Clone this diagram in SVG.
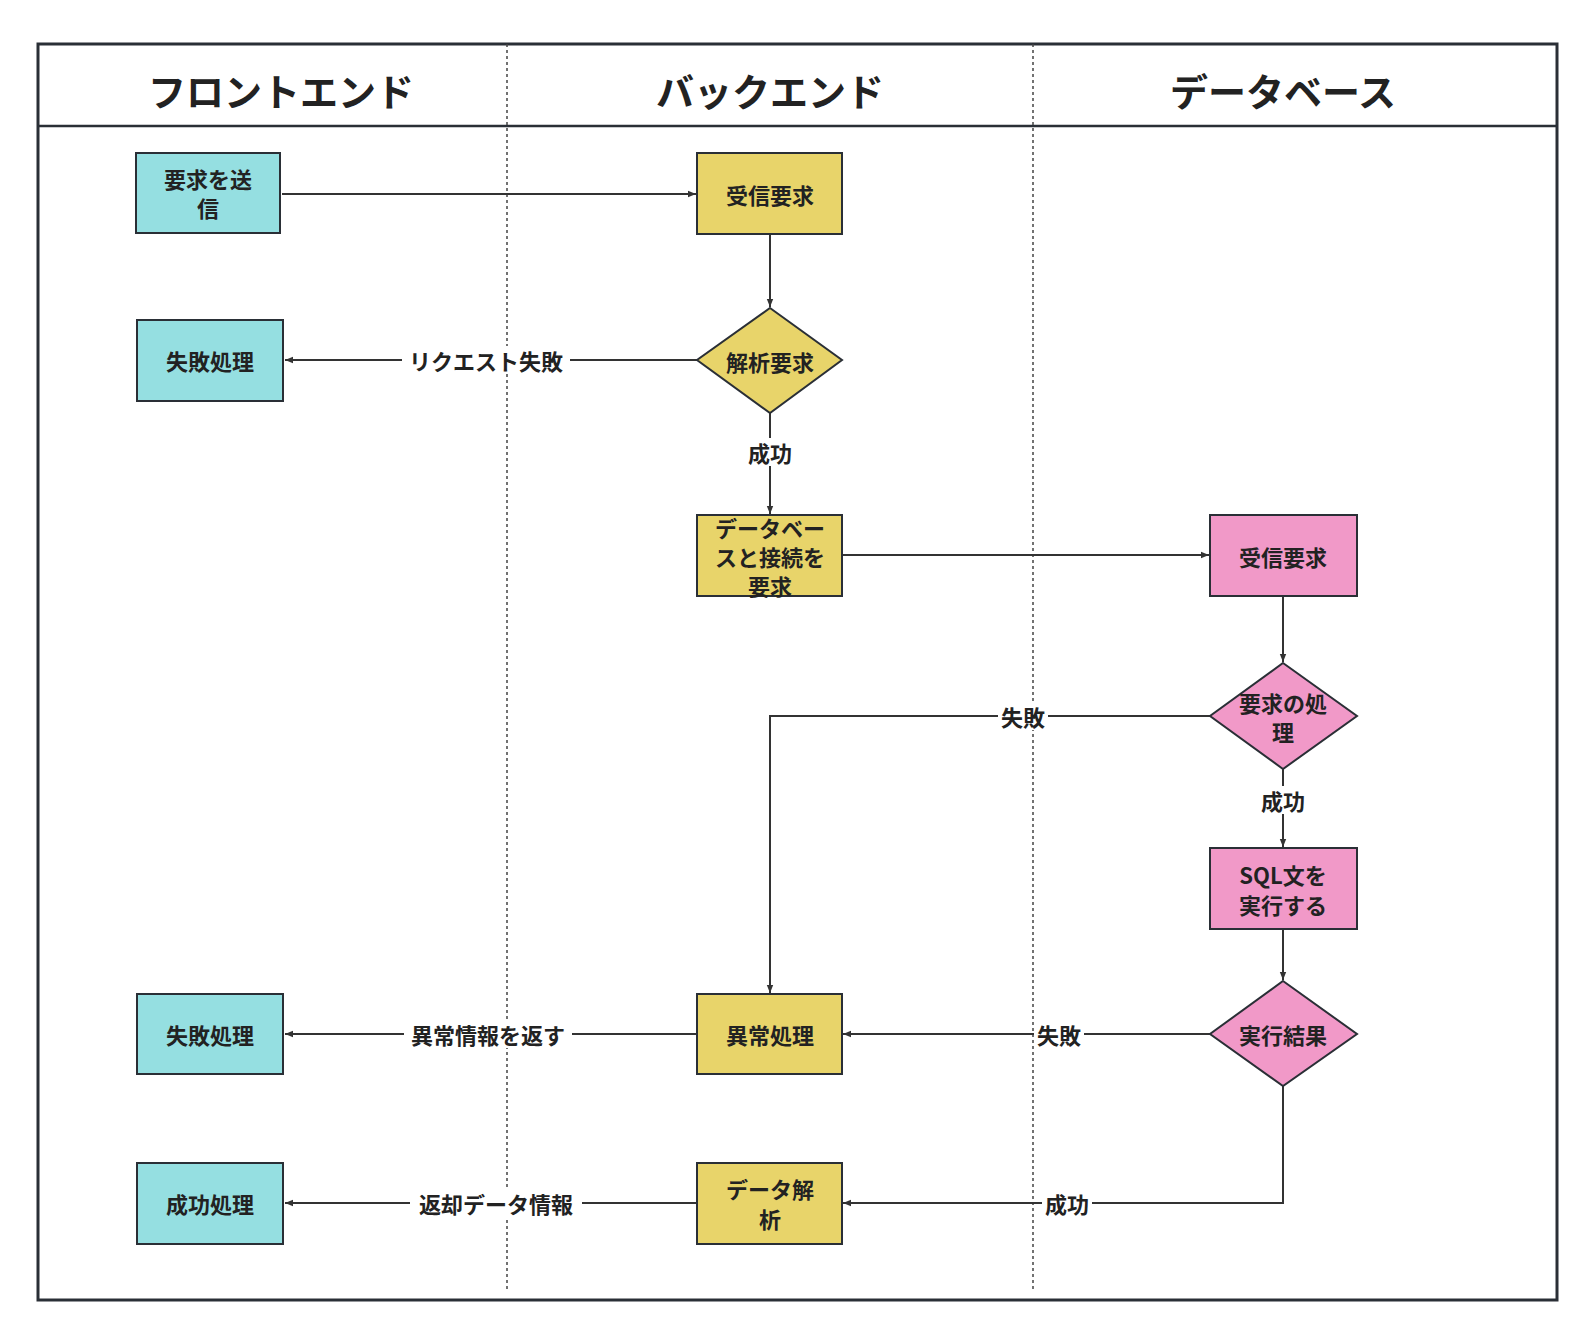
<svg xmlns="http://www.w3.org/2000/svg" width="1594" height="1338" viewBox="0 0 1594 1338">
<defs>
<style>
text{font-family:"Noto Sans CJK JP","Noto Sans",sans-serif;font-weight:bold;fill:#222;text-anchor:middle;dominant-baseline:central}
.h{font-size:38px}
.n{font-size:22px}
.l{font-size:22px}
.c{fill:#95DFE1;stroke:#2a2f36;stroke-width:2}
.y{fill:#E8D46A;stroke:#2a2f36;stroke-width:2}
.p{fill:#F199C8;stroke:#2a2f36;stroke-width:2}
.e{fill:none;stroke:#333;stroke-width:2;marker-end:url(#a)}
.lb{fill:#fff}
</style>
<marker id="a" viewBox="0 0 10 10" refX="10" refY="5" markerWidth="8" markerHeight="8" orient="auto" markerUnits="userSpaceOnUse"><path d="M0,1 L10,5 L0,9 z" fill="#333" transform="scale(1)"/></marker>
</defs>
<rect width="1594" height="1338" fill="#fff"/>
<g id="frame">
<rect x="38" y="44" width="1519" height="1256" fill="none" stroke="#2a2f36" stroke-width="3"/>
<line x1="38" y1="126" x2="1557" y2="126" stroke="#2a2f36" stroke-width="2.5"/>
<line x1="507" y1="44" x2="507" y2="1292" stroke="#444" stroke-width="1.5" stroke-dasharray="3,3"/>
<line x1="1033" y1="44" x2="1033" y2="1292" stroke="#444" stroke-width="1.5" stroke-dasharray="3,3"/>
<text class="h" x="281" y="89">フロントエンド</text>
<text class="h" x="770" y="89">バックエンド</text>
<text class="h" x="1283" y="89">データベース</text>
</g>
<g id="connectors">
<path class="e" d="M282,194 H696"/>
<path class="e" d="M770,234 V307"/>
<path class="e" d="M697,360 H285"/>
<rect class="lb" x="402" y="346" width="168" height="28"/><text class="l" x="486" y="360">リクエスト失敗</text>
<path class="e" d="M770,413 V514"/>
<rect class="lb" x="746" y="438" width="48" height="28"/><text class="l" x="770" y="452">成功</text>
<path class="e" d="M842,555 H1209"/>
<path class="e" d="M1283,596 V662"/>
<path class="e" d="M1210,716 H770 V993"/>
<rect class="lb" x="998" y="702" width="50" height="28"/><text class="l" x="1023" y="716">失敗</text>
<path class="e" d="M1283,769 V847"/>
<rect class="lb" x="1259" y="786" width="48" height="28"/><text class="l" x="1283" y="800">成功</text>
<path class="e" d="M1283,929 V980"/>
<path class="e" d="M1210,1034 H843"/>
<rect class="lb" x="1034" y="1020" width="50" height="28"/><text class="l" x="1059" y="1034">失敗</text>
<path class="e" d="M697,1034 H285"/>
<rect class="lb" x="404" y="1020" width="168" height="28"/><text class="l" x="488" y="1034">異常情報を返す</text>
<path class="e" d="M1283,1086 V1203 H843"/>
<rect class="lb" x="1042" y="1189" width="50" height="28"/><text class="l" x="1067" y="1203">成功</text>
<path class="e" d="M697,1203 H285"/>
<rect class="lb" x="410" y="1189" width="172" height="28"/><text class="l" x="496" y="1203">返却データ情報</text>
</g>
<g id="n1"><rect class="c" x="136" y="153" width="144" height="80"/><text class="n" x="208" y="178">要求を送</text><text class="n" x="208" y="207">信</text></g>
<g id="n2"><rect class="c" x="137" y="320" width="146" height="81"/><text class="n" x="210" y="360">失敗処理</text></g>
<g id="n3"><rect class="c" x="137" y="994" width="146" height="80"/><text class="n" x="210" y="1034">失敗処理</text></g>
<g id="n4"><rect class="c" x="137" y="1163" width="146" height="81"/><text class="n" x="210" y="1203">成功処理</text></g>
<g id="b1"><rect class="y" x="697" y="153" width="145" height="81"/><text class="n" x="770" y="194">受信要求</text></g>
<g id="b2"><polygon class="y" points="770,308 842,360 770,413 697,360"/><text class="n" x="770" y="361">解析要求</text></g>
<g id="b3"><rect class="y" x="697" y="515" width="145" height="81"/><text class="n" x="770" y="527">データベー</text><text class="n" x="770" y="556">スと接続を</text><text class="n" x="770" y="585">要求</text></g>
<g id="b4"><rect class="y" x="697" y="994" width="145" height="80"/><text class="n" x="770" y="1034">異常処理</text></g>
<g id="b5"><rect class="y" x="697" y="1163" width="145" height="81"/><text class="n" x="770" y="1188">データ解</text><text class="n" x="770" y="1218">析</text></g>
<g id="d1"><rect class="p" x="1210" y="515" width="147" height="81"/><text class="n" x="1283" y="556">受信要求</text></g>
<g id="d2"><polygon class="p" points="1283,663 1357,716 1283,769 1210,716"/><text class="n" x="1283" y="702">要求の処</text><text class="n" x="1283" y="731">理</text></g>
<g id="d3"><rect class="p" x="1210" y="848" width="147" height="81"/><text class="n" x="1283" y="874">SQL文を</text><text class="n" x="1283" y="904">実行する</text></g>
<g id="d4"><polygon class="p" points="1283,981 1357,1034 1283,1086 1210,1034"/><text class="n" x="1283" y="1034">実行結果</text></g>
</svg>
